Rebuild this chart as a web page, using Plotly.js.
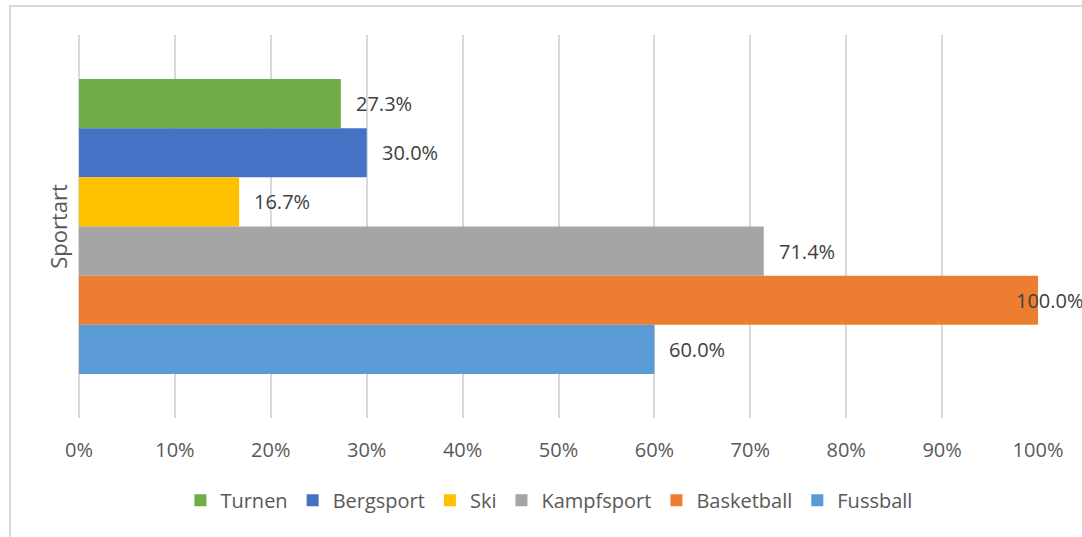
<!DOCTYPE html>
<html>
<head>
<meta charset="utf-8">
<script src="https://cdn.plot.ly/plotly-3.0.1.min.js"></script>
<style>
  html, body { margin: 0; padding: 0; background: #fff; }
  #wrap { position: relative; width: 1082px; height: 537px; overflow: hidden; }
  #chart { position: absolute; left: 0; top: 0; width: 1082px; height: 537px; }
  #frame { position: absolute; left: 9px; top: 5px; width: 1200px; height: 700px;
           border: 2px solid #d9d9d9; box-sizing: border-box; pointer-events: none; }
</style>
</head>
<body>
<div id="wrap">
  <div id="chart"></div>
  <div id="frame"></div>
</div>
<script>
// ---- data ----
const categories = ['Sportart'];
const seriesNames = ['Turnen', 'Bergsport', 'Ski', 'Kampfsport', 'Basketball', 'Fussball'];
const seriesValues = [0.273, 0.300, 0.167, 0.714, 1.000, 0.600];
const seriesColors = ['#70AD47', '#4472C4', '#FFC000', '#A5A5A5', '#ED7D31', '#5B9BD5'];
const xTickValues = [0, 0.1, 0.2, 0.3, 0.4, 0.5, 0.6, 0.7, 0.8, 0.9, 1.0];
const xTickLabels = ['0%', '10%', '20%', '30%', '40%', '50%', '60%', '70%', '80%', '90%', '100%'];
const axisTitle = 'Sportart';

const FONT = '"Open Sans", "Noto Sans", sans-serif';
const bargap = 0.23;

const traces = seriesNames.map((name, i) => ({
  type: 'bar',
  orientation: 'h',
  name: name,
  y: categories,
  x: [seriesValues[i]],
  marker: { color: seriesColors[i], line: { width: 0 } },
  hoverinfo: 'x+name'
}));

// data labels placed next to the bar ends
const n = seriesNames.length;
const slot = (1 - bargap) / n;
const annotations = seriesValues.map((v, i) => ({
  x: v,
  y: -(1 - bargap) / 2 + (i + 0.5) * slot,
  xref: 'x', yref: 'y',
  text: (v * 100).toFixed(1) + '%',
  showarrow: false,
  xanchor: 'left',
  yanchor: 'middle',
  xshift: v >= 0.95 ? -24 : 13,
  font: { family: FONT, size: 20, color: '#404040' }
}));

const layout = {
  width: 1082,
  height: 537,
  margin: { l: 79, r: 44, t: 35, b: 119 },
  paper_bgcolor: '#ffffff',
  plot_bgcolor: '#ffffff',
  barmode: 'group',
  bargap: bargap,
  font: { family: FONT, size: 20, color: '#595959' },
  xaxis: {
    range: [0, 1],
    tickvals: xTickValues,
    ticktext: xTickLabels,
    showgrid: true,
    gridcolor: '#d9d9d9',
    gridwidth: 2,
    zeroline: true,
    zerolinecolor: '#d9d9d9',
    zerolinewidth: 2,
    showline: false,
    ticks: 'outside',
    ticklen: 14,
    tickcolor: 'rgba(0,0,0,0)',
    tickfont: { family: FONT, size: 20, color: '#595959' },
    fixedrange: true
  },
  yaxis: {
    type: 'category',
    range: [0.5, -0.5],
    showticklabels: false,
    showgrid: false,
    zeroline: false,
    showline: false,
    ticks: '',
    title: { text: axisTitle, font: { family: FONT, size: 22, color: '#595959' }, standoff: 4 },
    fixedrange: true
  },
  showlegend: true,
  legend: {
    orientation: 'h',
    x: 0.49, xanchor: 'center',
    y: -0.215, yanchor: 'middle',
    font: { family: FONT, size: 20, color: '#595959' },
    traceorder: 'normal',
    itemclick: false,
    itemdoubleclick: false
  },
  annotations: annotations
};

Plotly.newPlot('chart', traces, layout, { displayModeBar: false, staticPlot: true });
</script>
</body>
</html>
